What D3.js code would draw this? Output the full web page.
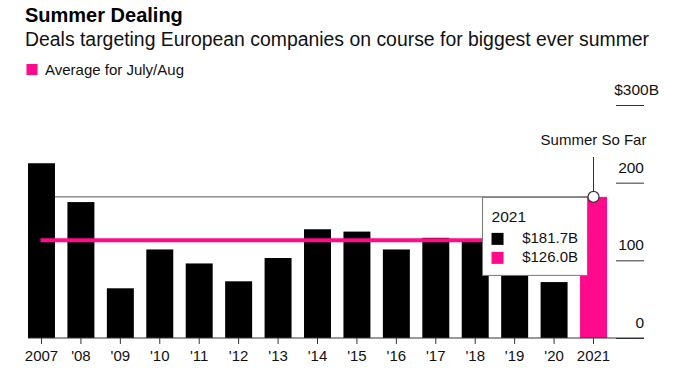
<!DOCTYPE html>
<html>
<head>
<meta charset="utf-8">
<script src="https://cdn.jsdelivr.net/npm/d3@7"></script>
<style>
  body { margin: 0; background: #fff; }
  svg { display: block; font-family: "Liberation Sans", Arial, Helvetica, sans-serif; }
</style>
</head>
<body>
<div id="chart"></div>
<script>
// Deal value targeting European companies, July/Aug, $B
var years = ["2007","2008","2009","2010","2011","2012","2013","2014","2015","2016","2017","2018","2019","2020","2021"];
var dealValues = [225, 175, 64, 114, 96, 73, 103, 140, 137, 114, 129, 127, 120, 72, 181.7];
var averageJulyAug = [126.0];
var yTickValues = [0, 100, 200, 300];

var pink = "#ff0a8c";
var width = 680, height = 375;

var svg = d3.select("#chart")
  .append("svg")
    .attr("width", width)
    .attr("height", height);

// Title, subtitle, legend
svg.append("text")
    .attr("x", 25).attr("y", 21.5)
    .attr("font-size", 20).attr("font-weight", "bold")
    .attr("fill", "#000")
    .text("Summer Dealing");

svg.append("text")
    .attr("x", 25).attr("y", 45.5)
    .attr("font-size", 19.4)
    .attr("fill", "#111")
    .text("Deals targeting European companies on course for biggest ever summer");

svg.append("rect")
    .attr("x", 26.5).attr("y", 64)
    .attr("width", 11).attr("height", 11)
    .attr("fill", pink);

svg.append("text")
    .attr("x", 45).attr("y", 74.5)
    .attr("font-size", 15)
    .attr("fill", "#111")
    .text("Average for July/Aug");

// Scales
var x = d3.scaleBand()
    .domain(years)
    .range([28, 607])
    .paddingInner(0.316)
    .paddingOuter(0);

var y = d3.scaleLinear()
    .domain([0, 300])
    .range([338, 105]);

var data = years.map(function(d, i) { return { year: d, value: dealValues[i] }; });
var current = data[data.length - 1];
var cx = x(current.year) + x.bandwidth() / 2;

// Y axis: short tick segments on the right, labels above them
var yAxis = svg.append("g")
    .attr("transform", "translate(616,0)")
    .call(d3.axisRight(y)
      .tickValues(yTickValues)
      .tickSize(28)
      .tickFormat(function(d) { return d === 300 ? "$300B" : d; }));

yAxis.select(".domain").remove();
yAxis.selectAll(".tick line").attr("stroke", "#333");
yAxis.selectAll(".tick text")
    .attr("x", function(d) { return d === 300 ? 43 : 28; })
    .attr("dy", -10.5)
    .attr("text-anchor", "end")
    .attr("font-size", 15.5)
    .attr("font-family", "Liberation Sans, Arial, sans-serif")
    .attr("fill", "#111");

// line from the latest value across the chart (behind bars)
svg.append("line")
    .attr("x1", 28).attr("x2", cx)
    .attr("y1", y(current.value)).attr("y2", y(current.value))
    .attr("stroke", "#555")
    .attr("stroke-width", 1);

// Bars
svg.append("g")
  .selectAll("rect")
  .data(data)
  .enter().append("rect")
    .attr("x", function(d) { return x(d.year); })
    .attr("y", function(d) { return y(d.value); })
    .attr("width", x.bandwidth())
    .attr("height", function(d) { return y(0) - y(d.value); })
    .attr("fill", function(d) { return d.year === current.year ? pink : "#000"; });

// Average line
svg.append("g")
  .selectAll("line")
  .data(averageJulyAug)
  .enter().append("line")
    .attr("x1", x(years[0]) + x.bandwidth() / 2 - 1)
    .attr("x2", cx)
    .attr("y1", function(d) { return y(d); })
    .attr("y2", function(d) { return y(d); })
    .attr("stroke", pink)
    .attr("stroke-width", 4);

// Baseline
svg.append("line")
    .attr("x1", 28).attr("x2", 644)
    .attr("y1", y(0)).attr("y2", y(0))
    .attr("stroke", "#333")
    .attr("stroke-width", 1);

// X axis
var xAxis = svg.append("g")
    .attr("transform", "translate(0," + y(0) + ")")
    .call(d3.axisBottom(x)
      .tickSize(6)
      .tickFormat(function(d, i) {
        return (i === 0 || i === years.length - 1) ? d : "'" + d.slice(2);
      }));

xAxis.select(".domain").remove();
xAxis.selectAll(".tick line").attr("stroke", "#333");
xAxis.selectAll(".tick text")
    .attr("y", 22.7)
    .attr("dy", 0)
    .attr("font-size", 15)
    .attr("font-family", "Liberation Sans, Arial, sans-serif")
    .attr("fill", "#111");

// Tooltip box for the latest year
var boxRight = x(current.year) + 7;
var box = svg.append("g")
    .attr("transform", "translate(" + (boxRight - 105) + "," + y(current.value) + ")");

box.append("rect")
    .attr("x", 0.5).attr("y", 0.5)
    .attr("width", 105).attr("height", 78)
    .attr("fill", "#fff")
    .attr("stroke", "#777")
    .attr("stroke-width", 1);

box.append("text")
    .attr("x", 9.5).attr("y", 25)
    .attr("font-size", 15.5)
    .attr("fill", "#111")
    .text(current.year);

var rows = [
  { color: "#000", label: "$" + current.value.toFixed(1) + "B" },
  { color: pink, label: "$" + averageJulyAug[0].toFixed(1) + "B" }
];

var row = box.selectAll(".row")
  .data(rows)
  .enter().append("g")
    .attr("class", "row")
    .attr("transform", function(d, i) { return "translate(0," + (i * 19) + ")"; });

row.append("rect")
    .attr("x", 9.5).attr("y", 36)
    .attr("width", 12).attr("height", 12)
    .attr("fill", function(d) { return d.color; });

row.append("text")
    .attr("x", 96).attr("y", 46.5)
    .attr("text-anchor", "end")
    .attr("font-size", 15)
    .attr("fill", "#111")
    .text(function(d) { return d.label; });

// "Summer So Far" marker
svg.append("line")
    .attr("x1", cx).attr("x2", cx)
    .attr("y1", 157).attr("y2", y(current.value) - 5.5)
    .attr("stroke", "#333")
    .attr("stroke-width", 1);

svg.append("circle")
    .attr("cx", cx).attr("cy", y(current.value))
    .attr("r", 5.5)
    .attr("fill", "#fff")
    .attr("stroke", "#333")
    .attr("stroke-width", 1.2);

svg.append("text")
    .attr("x", cx).attr("y", 145)
    .attr("text-anchor", "middle")
    .attr("font-size", 15)
    .attr("fill", "#111")
    .text("Summer So Far");
</script>
</body>
</html>
